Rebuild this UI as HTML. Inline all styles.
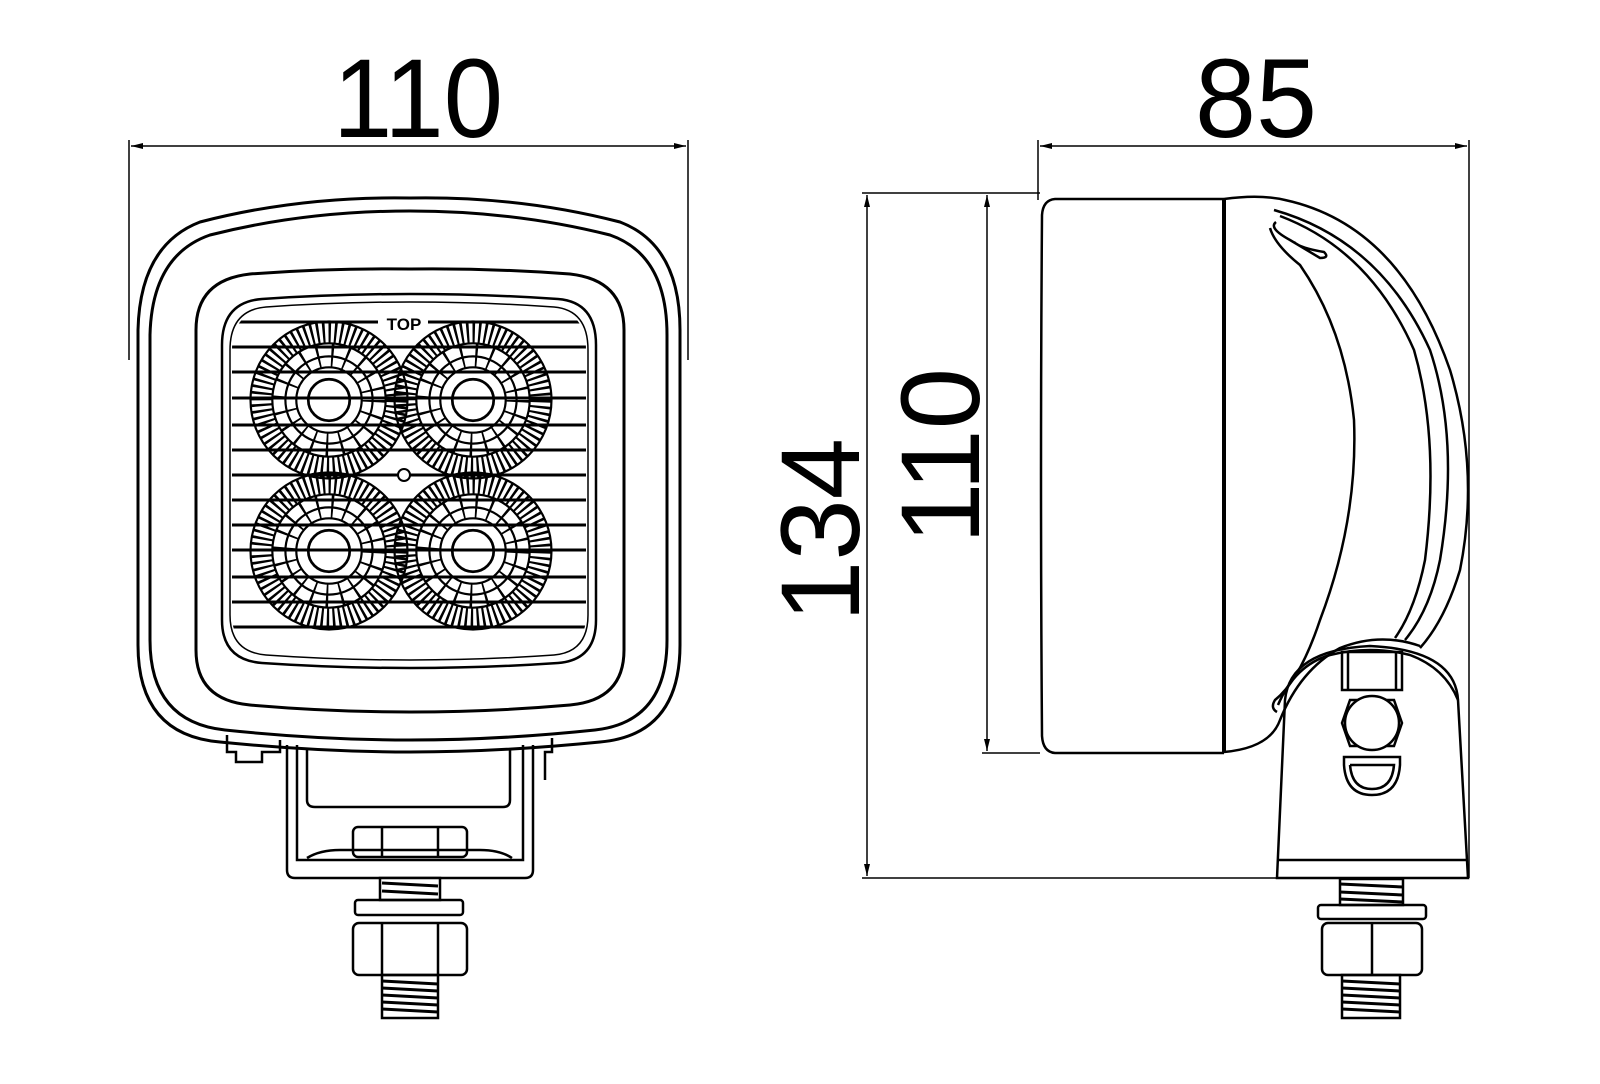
<!DOCTYPE html>
<html><head><meta charset="utf-8"><style>
html,body{margin:0;padding:0;background:#fff}
svg{display:block}
text{font-family:"Liberation Sans",sans-serif;fill:#000}
</style></head><body>
<svg width="1600" height="1084" viewBox="0 0 1600 1084" xmlns="http://www.w3.org/2000/svg">
<defs>
<marker id="ar" viewBox="0 0 12 6" refX="12" refY="3" markerWidth="12" markerHeight="6" orient="auto-start-reverse" markerUnits="userSpaceOnUse"><path d="M0,0 L12,3 L0,6 z" fill="#000"/></marker>
<g id="led">
<circle r="62" fill="none" stroke="#000" stroke-width="20" stroke-dasharray="2.2 3.2"/>
<circle r="72" fill="none" stroke="#000" stroke-width="2"/>
<circle r="52" fill="none" stroke="#000" stroke-width="2"/>
<circle r="40" fill="none" stroke="#000" stroke-width="2"/>
<circle r="30" fill="none" stroke="#000" stroke-width="2"/>
<circle r="41" fill="none" stroke="#000" stroke-width="22" stroke-dasharray="2 11"/>
<circle r="19" fill="#fff" stroke="#000" stroke-width="2.5"/>
</g>
<clipPath id="lensclip"><path d="M232,350 Q232,312 268,309 Q336,304 410,304 Q484,304 552,309 Q586,312 586,350 L586,615 Q586,650 552,653 Q484,658 410,658 Q336,658 268,653 Q232,650 232,615 Z"/></clipPath>
</defs>

<!-- dimension 110 top -->
<text x="418" y="137" font-size="112" text-anchor="middle" textLength="170" lengthAdjust="spacingAndGlyphs">110</text>
<line x1="129" y1="140" x2="129" y2="360" stroke="#000" stroke-width="1.5"/>
<line x1="688" y1="140" x2="688" y2="360" stroke="#000" stroke-width="1.5"/>
<line x1="131" y1="146" x2="686" y2="146" stroke="#000" stroke-width="1.5" marker-start="url(#ar)" marker-end="url(#ar)"/>

<!-- front housing -->
<g fill="none" stroke="#000" stroke-width="3">
<path d="M138,330 Q140,245 200,222 Q300,196 410,198 Q520,196 620,222 Q680,245 680,330 L680,645 Q680,735 600,742 Q500,752 410,752 Q320,752 220,742 Q138,735 138,645 Z"/>
<path d="M150,335 Q152,255 210,235 Q305,211 410,211 Q515,211 610,235 Q667,255 667,335 L667,640 Q667,722 595,730 Q500,740 410,740 Q320,740 225,730 Q150,722 150,640 Z"/>
<path d="M196,330 Q196,280 250,274 Q330,268 410,269 Q490,268 570,274 Q624,280 624,330 L624,650 Q624,700 570,705 Q490,712 410,712 Q330,712 250,705 Q196,700 196,650 Z"/>
<path d="M222,345 Q222,302 262,299 Q335,294 410,294 Q485,294 558,299 Q596,302 596,345 L596,620 Q596,660 558,663 Q485,668 410,668 Q335,668 262,663 Q222,660 222,620 Z" stroke-width="2.5"/>
<path d="M230,350 Q230,310 266,307 Q336,302 410,302 Q484,302 554,307 Q588,310 588,350 L588,615 Q588,652 554,655 Q484,660 410,660 Q336,660 266,655 Q230,652 230,615 Z" stroke-width="1.5"/>
</g>
<g clip-path="url(#lensclip)">
<use href="#led" transform="translate(329,400) scale(1.09)"/>
<use href="#led" transform="translate(473,400) scale(1.09)"/>
<use href="#led" transform="translate(329,551) scale(1.09)"/>
<use href="#led" transform="translate(473,551) scale(1.09)"/>
<g stroke="#000" stroke-width="3">
<line x1="225" y1="322" x2="592" y2="322"/><line x1="225" y1="347" x2="592" y2="347"/>
<line x1="225" y1="372" x2="592" y2="372"/><line x1="225" y1="398" x2="592" y2="398"/>
<line x1="225" y1="425" x2="592" y2="425"/><line x1="225" y1="450" x2="592" y2="450"/>
<line x1="225" y1="475" x2="592" y2="475"/><line x1="225" y1="500" x2="592" y2="500"/>
<line x1="225" y1="525" x2="592" y2="525"/><line x1="225" y1="550" x2="592" y2="550"/>
<line x1="225" y1="577" x2="592" y2="577"/><line x1="225" y1="602" x2="592" y2="602"/>
<line x1="225" y1="627" x2="592" y2="627"/>
</g>
</g>
<rect x="378" y="313" width="50" height="18" fill="#fff"/>
<text x="404" y="330" font-size="17" font-weight="bold" text-anchor="middle">TOP</text>
<circle cx="404" cy="475" r="6" fill="#fff" stroke="#000" stroke-width="2"/>

<!-- front bracket -->
<g fill="none" stroke="#000" stroke-width="2.5">
<path d="M227,735 L227,752 L236,752 L236,762 L262,762 L262,752 L280,752 L280,740"/>
<path d="M552,738 L552,752 L545,752 L545,780"/>
<path d="M287,745 L287,870 Q287,878 295,878 L525,878 Q533,878 533,870 L533,745"/>
<path d="M297,745 L297,860 L523,860 L523,745"/>
<path d="M307,748 L307,800 Q307,807 315,807 L503,807 Q510,807 510,800 L510,748"/>
<path d="M307,858 Q320,850 340,850 L480,850 Q500,850 512,858"/>
<rect x="353" y="827" width="114" height="30" rx="5"/>
<line x1="382" y1="827" x2="382" y2="857"/><line x1="438" y1="827" x2="438" y2="857"/>
<rect x="380" y="878" width="60" height="22" fill="#fff"/>
<rect x="355" y="900" width="108" height="15" rx="3"/>
<rect x="353" y="923" width="114" height="52" rx="6"/>
<line x1="382" y1="923" x2="382" y2="975"/><line x1="438" y1="923" x2="438" y2="975"/>
<rect x="382" y="975" width="56" height="43"/>
</g>
<g stroke="#000" stroke-width="3">
<line x1="382" y1="883" x2="438" y2="886"/><line x1="382" y1="891" x2="438" y2="894"/>
<line x1="382" y1="981" x2="438" y2="984"/><line x1="382" y1="988" x2="438" y2="991"/>
<line x1="382" y1="995" x2="438" y2="998"/><line x1="382" y1="1002" x2="438" y2="1005"/>
<line x1="382" y1="1009" x2="438" y2="1012"/>
</g>

<!-- right view dims -->
<text x="1256" y="137" font-size="112" text-anchor="middle" textLength="122" lengthAdjust="spacingAndGlyphs">85</text>
<line x1="1038" y1="140" x2="1038" y2="200" stroke="#000" stroke-width="1.5"/>
<line x1="1469" y1="140" x2="1469" y2="878" stroke="#000" stroke-width="1.5"/>
<line x1="1040" y1="146" x2="1467" y2="146" stroke="#000" stroke-width="1.5" marker-start="url(#ar)" marker-end="url(#ar)"/>

<line x1="862" y1="193" x2="1040" y2="193" stroke="#000" stroke-width="1.5"/>
<line x1="862" y1="878" x2="1278" y2="878" stroke="#000" stroke-width="1.5"/>
<line x1="867" y1="195" x2="867" y2="876" stroke="#000" stroke-width="1.5" marker-start="url(#ar)" marker-end="url(#ar)"/>
<line x1="982" y1="753" x2="1040" y2="753" stroke="#000" stroke-width="1.5"/>
<line x1="987" y1="195" x2="987" y2="751" stroke="#000" stroke-width="1.5" marker-start="url(#ar)" marker-end="url(#ar)"/>
<text transform="translate(859,530) rotate(-90)" font-size="112" text-anchor="middle" textLength="184" lengthAdjust="spacingAndGlyphs">134</text>
<text transform="translate(979,456) rotate(-90)" font-size="112" text-anchor="middle" textLength="176" lengthAdjust="spacingAndGlyphs">110</text>

<!-- side body -->
<g fill="none" stroke="#000" stroke-width="2.5">
<path d="M1224,199 L1055,199 Q1043,200 1042,215 Q1040,476 1042,736 Q1043,752 1055,753 L1224,753"/>
<line x1="1224" y1="199" x2="1224" y2="753" stroke-width="4"/>
<path d="M1224,199 Q1260,194 1285,200 Q1400,225 1450,370 Q1480,470 1460,570 Q1445,620 1420,648"/>
<path d="M1274,210 Q1380,240 1430,350 Q1460,440 1440,560 Q1430,610 1405,640"/>
<path d="M1280,216 Q1370,250 1414,350 Q1440,440 1425,560 Q1415,610 1395,638"/>
<path d="M1276,222 Q1268,228 1290,240 Q1310,252 1320,258 Q1330,258 1324,252 Q1300,248 1294,242"/>
<path d="M1270,228 Q1275,245 1300,265 Q1345,330 1354,420 Q1358,520 1320,620 Q1300,680 1275,700 Q1270,708 1277,712"/>
<path d="M1224,752 Q1270,748 1280,720 Q1300,670 1340,648 Q1380,632 1420,646"/>
</g>
<!-- mount base -->
<g fill="none" stroke="#000" stroke-width="2.5">
<path d="M1277,878 L1285,700 Q1290,650 1370,646 Q1455,650 1458,700 L1468,878 Z"/>
<line x1="1279" y1="860" x2="1466" y2="860"/>
<path d="M1278,705 Q1295,665 1330,655 Q1370,645 1410,655 Q1445,668 1458,700"/>
<rect x="1342" y="652" width="60" height="38"/>
<line x1="1348" y1="652" x2="1348" y2="690"/><line x1="1396" y1="652" x2="1396" y2="690"/>
<path d="M1342,723 L1350,700 L1394,700 L1402,723 L1394,746 L1350,746 Z"/>
<circle cx="1372" cy="723" r="27" fill="#fff"/>
<path d="M1344,757 L1400,757 L1400,765 Q1398,795 1372,795 Q1346,795 1344,765 Z"/>
<path d="M1350,765 L1394,765 Q1392,789 1372,789 Q1352,789 1350,765"/>
<rect x="1340" y="879" width="63" height="26" fill="#fff"/>
<rect x="1318" y="905" width="108" height="14" rx="3"/>
<rect x="1322" y="923" width="100" height="52" rx="6"/>
<line x1="1372" y1="923" x2="1372" y2="975"/>
<rect x="1342" y="975" width="58" height="43"/>
</g>
<g stroke="#000" stroke-width="3">
<line x1="1340" y1="884" x2="1403" y2="887"/><line x1="1340" y1="892" x2="1403" y2="895"/><line x1="1340" y1="899" x2="1403" y2="902"/>
<line x1="1342" y1="981" x2="1400" y2="984"/><line x1="1342" y1="988" x2="1400" y2="991"/>
<line x1="1342" y1="995" x2="1400" y2="998"/><line x1="1342" y1="1002" x2="1400" y2="1005"/>
<line x1="1342" y1="1009" x2="1400" y2="1012"/>
</g>
</svg>
</body></html>
